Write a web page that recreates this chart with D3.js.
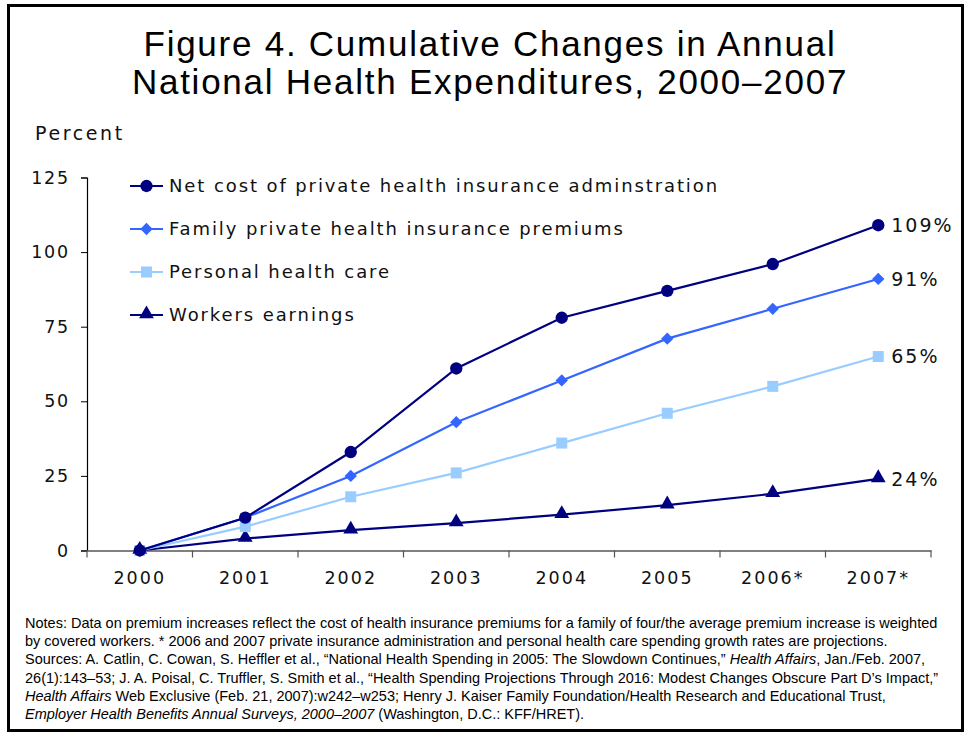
<!DOCTYPE html>
<html>
<head>
<meta charset="utf-8">
<script src="https://cdn.jsdelivr.net/npm/d3@7"></script>
<style>
  body { margin: 0; background: #fff; }
  svg { display: block; }
</style>
</head>
<body>
<script>
var years = ["2000", "2001", "2002", "2003", "2004", "2005", "2006*", "2007*"];
var netCost = [0, 11, 33, 61, 78, 87, 96, 109];
var premiums = [0, 11, 25, 43, 57, 71, 81, 91];
var personalCare = [0, 8, 18, 26, 36, 46, 55, 65];
var workers = [0, 4, 6.8, 9.2, 12, 15.2, 19, 24];
var yTicks = [0, 25, 50, 75, 100, 125];
var seriesNames = [
  "Net cost of private health insurance adminstration",
  "Family private health insurance premiums",
  "Personal health care",
  "Workers earnings"
];
var endLabels = ["109%", "91%", "65%", "24%"];

var width = 972,
    height = 734;
var verdana = "'DejaVu Sans', Verdana, sans-serif";

var diamond = {
  draw: function(ctx, size) {
    var r = Math.sqrt(size / 2);
    ctx.moveTo(0, -r); ctx.lineTo(r, 0); ctx.lineTo(0, r); ctx.lineTo(-r, 0); ctx.closePath();
  }
};

var series = [
  {name: seriesNames[0], values: netCost, color: "#000080", symbol: d3.symbolCircle, size: 120, end: endLabels[0]},
  {name: seriesNames[1], values: premiums, color: "#3366ff", symbol: diamond, size: 76, end: endLabels[1]},
  {name: seriesNames[2], values: personalCare, color: "#99ccff", symbol: d3.symbolSquare, size: 121, end: endLabels[2]},
  {name: seriesNames[3], values: workers, color: "#000080", symbol: d3.symbolTriangle, size: 95, end: endLabels[3]}
];

var svg = d3.select("body").append("svg")
    .attr("width", width)
    .attr("height", height);

svg.append("rect")
    .attr("x", 8.5).attr("y", 5.5)
    .attr("width", 954).attr("height", 725)
    .attr("fill", "#fff")
    .attr("stroke", "#000")
    .attr("stroke-width", 3);

// title
var title = svg.append("text")
    .attr("text-anchor", "middle")
    .style("font-family", "'Liberation Sans', Arial, sans-serif")
    .style("font-size", "35px")
    .style("letter-spacing", "1.75px")
    .attr("fill", "#000");
title.append("tspan").attr("x", 490).attr("y", 56).text("Figure 4. Cumulative Changes in Annual");
title.append("tspan").attr("x", 490).attr("y", 94).text("National Health Expenditures, 2000\u20132007");

var margin = {left: 87, right: 41, top: 177.5, bottom: 183.5};

var x = d3.scaleBand()
    .domain(years)
    .range([margin.left, width - margin.right]);

var y = d3.scaleLinear()
    .domain([0, 125])
    .range([height - margin.bottom, margin.top]);

var g = svg.append("g");

svg.append("text")
    .attr("x", 35).attr("y", 140)
    .style("font-family", verdana)
    .style("font-size", "19px")
    .style("letter-spacing", "2.6px")
    .attr("fill", "#111")
    .text("Percent");

// y axis
var yAxis = g.append("g")
    .attr("transform", "translate(" + margin.left + ",0)")
    .call(d3.axisLeft(y).tickValues(yTicks).tickSize(6).tickPadding(11));
yAxis.select(".domain").attr("stroke", "#000").attr("stroke-width", 1.2);
yAxis.selectAll(".tick line").attr("stroke", "#000");
yAxis.selectAll("text")
    .style("font-family", verdana)
    .style("font-size", "17.5px")
    .style("letter-spacing", "1.8px")
    .attr("fill", "#111");

// x axis
var xAxis = g.append("g")
    .attr("transform", "translate(0," + y(0) + ")")
    .call(d3.axisBottom(x).tickSize(0).tickPadding(21));
xAxis.select(".domain").attr("stroke", "#808080").attr("stroke-width", 2);
xAxis.selectAll("text")
    .style("font-family", verdana)
    .style("font-size", "17.5px")
    .style("letter-spacing", "2px")
    .attr("fill", "#111");

// tick marks at band boundaries
var bounds = years.map(function(d) { return x(d); }).concat([x.range()[1]]);
xAxis.selectAll(".bound")
    .data(bounds)
    .enter().append("line")
    .attr("class", "bound")
    .attr("x1", function(d) { return d; })
    .attr("x2", function(d) { return d; })
    .attr("y1", 0).attr("y2", 7)
    .attr("stroke", "#555")
    .attr("stroke-width", 1.2);

var cx = function(i) { return x(years[i]) + x.bandwidth() / 2; };

var line = d3.line()
    .x(function(d, i) { return cx(i); })
    .y(function(d) { return y(d); });

// draw series in reverse so the top series sits on top
series.slice().reverse().forEach(function(s) {
  g.append("path")
      .datum(s.values)
      .attr("d", line)
      .attr("fill", "none")
      .attr("stroke", s.color)
      .attr("stroke-width", 2.2);

  g.selectAll(null)
      .data(s.values)
      .enter().append("path")
      .attr("d", d3.symbol().type(s.symbol).size(s.size))
      .attr("transform", function(d, i) {
        var dy = s.symbol === d3.symbolTriangle ? -1 : 0;
        return "translate(" + cx(i) + "," + (y(d) + dy) + ")";
      })
      .attr("fill", s.color);
});

// end labels
g.selectAll(".endlabel")
    .data(series)
    .enter().append("text")
    .attr("class", "endlabel")
    .attr("x", cx(years.length - 1) + 13)
    .attr("y", function(d) { return y(d.values[d.values.length - 1]); })
    .attr("dy", "0.36em")
    .style("font-family", verdana)
    .style("font-size", "19px")
    .style("letter-spacing", "2px")
    .attr("fill", "#111")
    .text(function(d) { return d.end; });

// legend
var legend = svg.append("g")
    .attr("transform", "translate(130,186)");
var item = legend.selectAll("g")
    .data(series)
    .enter().append("g")
    .attr("transform", function(d, i) { return "translate(0," + (i * 43) + ")"; });
item.append("line")
    .attr("x1", 0).attr("x2", 33)
    .attr("stroke", function(d) { return d.color; })
    .attr("stroke-width", 2.2);
item.append("path")
    .attr("d", function(d) { return d3.symbol().type(d.symbol).size(d.size)(); })
    .attr("transform", function(d) { return "translate(16.5," + (d.symbol === d3.symbolTriangle ? -1 : 0) + ")"; })
    .attr("fill", function(d) { return d.color; });
item.append("text")
    .attr("x", 39)
    .attr("dy", "0.36em")
    .style("font-family", verdana)
    .style("font-size", "18px")
    .style("letter-spacing", "1.9px")
    .attr("fill", "#111")
    .text(function(d) { return d.name; });

// notes
var notes = [
  [{t: "Notes: Data on premium increases reflect the cost of health insurance premiums for a family of four/the average premium increase is weighted"}],
  [{t: "by covered workers. * 2006 and 2007 private insurance administration and personal health care spending growth rates are projections."}],
  [{t: "Sources: A. Catlin, C. Cowan, S. Heffler et al., \u201cNational Health Spending in 2005: The Slowdown Continues,\u201d "}, {t: "Health Affairs", i: true}, {t: ", Jan./Feb. 2007,"}],
  [{t: "26(1):143\u201353; J. A. Poisal, C. Truffler, S. Smith et al., \u201cHealth Spending Projections Through 2016: Modest Changes Obscure Part D\u2019s Impact,\u201d"}],
  [{t: "Health Affairs", i: true}, {t: " Web Exclusive (Feb. 21, 2007):w242\u2013w253; Henry J. Kaiser Family Foundation/Health Research and Educational Trust,"}],
  [{t: "Employer Health Benefits Annual Surveys, 2000\u20132007", i: true}, {t: " (Washington, D.C.: KFF/HRET)."}]
];
var notesText = svg.append("text")
    .style("font-family", "'Liberation Sans', Arial, sans-serif")
    .style("font-size", "14.5px")
    .attr("fill", "#000");
notes.forEach(function(parts, li) {
  parts.forEach(function(p, pi) {
    var ts = notesText.append("tspan").text(p.t);
    if (pi === 0) ts.attr("x", 25).attr("y", 628 + li * 18.2);
    if (p.i) ts.style("font-style", "italic");
  });
});
</script>
</body>
</html>
